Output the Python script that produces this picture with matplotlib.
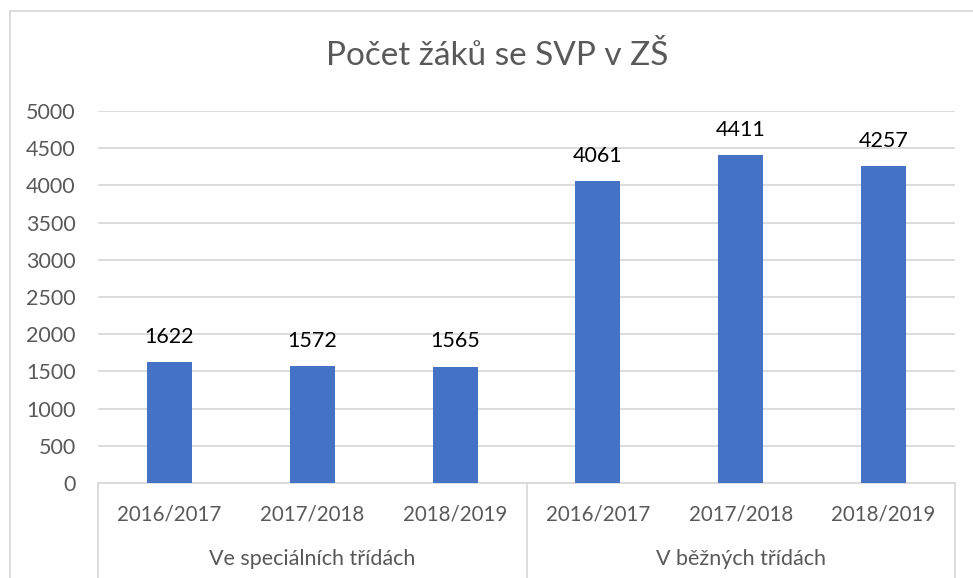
import matplotlib
matplotlib.use("Agg")
import matplotlib.pyplot as plt
from matplotlib.patches import Rectangle

plt.rcParams['font.family'] = ['Lato', 'DejaVu Sans']

# data
years = ["2016/2017", "2017/2018", "2018/2019", "2016/2017", "2017/2018", "2018/2019"]
groups = ["Ve speciálních třídách", "V běžných třídách"]
values = [1622, 1572, 1565, 4061, 4411, 4257]
yticks = [0, 500, 1000, 1500, 2000, 2500, 3000, 3500, 4000, 4500, 5000]

BAR = "#4472C4"
GRID = "#D9D9D9"
TXT = "#595959"

fig = plt.figure(figsize=(9.73, 5.78), dpi=100)
ax = fig.add_axes([98/973, 1-483/578, (955-98)/973, (483-111)/578])

# outer chart frame (runs off the right/bottom edge in the reference)
fig.patches.append(Rectangle((10/973, -0.1), 1.2, 1-11/578+0.1, transform=fig.transFigure,
                             fill=False, edgecolor=GRID, lw=1.3))

x = list(range(len(values)))
bars = ax.bar(x, values, width=0.315, color=BAR, zorder=3)
for xi, v in zip(x, values):
    ax.annotate(str(v), (xi, v), xytext=(0, 11), textcoords="offset points",
                ha="center", va="bottom", fontsize=15.5, color="black")

ax.set_xlim(-0.5, len(values) - 0.5)
ax.set_ylim(0, 5000)
ax.set_yticks(yticks)
ax.set_yticklabels([str(t) for t in yticks], fontsize=15.5, color=TXT)
ax.tick_params(axis="y", length=0, pad=16)
ax.set_xticks([])
ax.grid(axis="y", color=GRID, lw=1.3, zorder=0)
for s in ["top", "right", "left"]:
    ax.spines[s].set_visible(False)
ax.spines["bottom"].set_color(GRID)
ax.spines["bottom"].set_linewidth(1.3)

# two-level category axis
tr = ax.get_xaxis_transform()
for xi, lab in zip(x, years):
    ax.text(xi, -0.085, lab, transform=tr, ha="center", va="center", fontsize=14.8, color=TXT)
for gi, g in enumerate(groups):
    ax.text(gi * 3 + 1, -0.205, g, transform=tr, ha="center", va="center", fontsize=15.5, color=TXT)
for xb in [-0.5, 2.5, 5.5]:
    ax.plot([xb, xb], [0, -0.26], transform=tr, color=GRID, lw=1.3, clip_on=False)

fig.text(497/973, 1-56/578, "Počet žáků se SVP v ZŠ", ha="center", va="center",
         fontsize=24, color=TXT)

fig.savefig("out.png", dpi=100)
